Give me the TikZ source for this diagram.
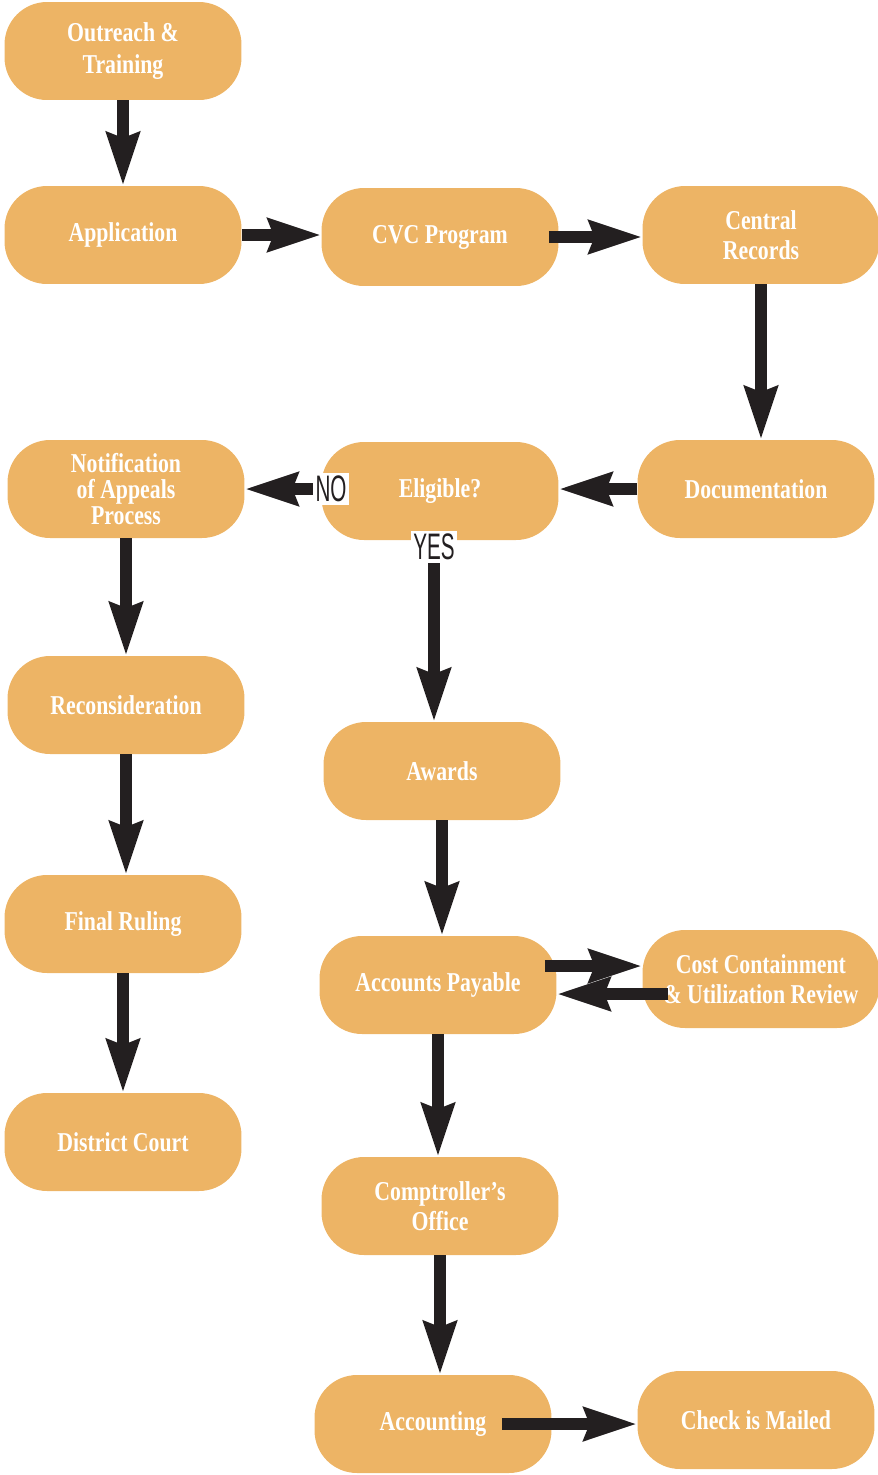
\documentclass[tikz,border=0pt]{standalone}
\usepackage{fontspec}
\setmainfont[FakeStretch=0.8]{Liberation Serif}
\newfontfamily\tagfont[FakeStretch=0.56]{Liberation Sans}
\usetikzlibrary{arrows.meta}
\definecolor{boxorange}{HTML}{EDB465}
\definecolor{arrowblack}{HTML}{231F20}

\begin{document}
\begin{tikzpicture}[x=0.02cm, y=-0.02cm,
  stage/.style={fill=boxorange, rounded corners=0.85cm, minimum width=4.74cm,
    minimum height=1.96cm, align=center, text=white,
    font=\bfseries\fontsize{15.5}{17}\selectfont},
  flow/.style={draw=arrowblack, line width=0.24cm,
    -{Stealth[length=1.05cm, width=0.64cm, inset=0.1cm]}},
  answer/.style={fill=white, text=arrowblack, inner sep=1.5pt,
    font=\tagfont\fontsize{21}{21}\selectfont}]
\useasboundingbox (0,0) rectangle (878,1475);

% left column
\node[stage] (outreach)     at (123,51)   {Outreach \&\\[1.5pt]Training};
\node[stage] (application)  at (123,235)  {Application};
\node[stage] (notification) at (126,489)  {Notification\\[-2pt]of Appeals\\[-2pt]Process};
\node[stage] (reconsider)   at (126,705)  {Reconsideration};
\node[stage] (ruling)       at (123,924)  {Final Ruling};
\node[stage] (court)        at (123,1142) {District Court};

% middle column
\node[stage] (cvc)         at (440,237)  {CVC Program};
\node[stage] (eligible)    at (440,491)  {Eligible?};
\node[stage] (awards)      at (442,771)  {Awards};
\node[stage] (payable)     at (438,985)  {Accounts Payable};
\node[stage] (comptroller) at (440,1206) {Comptroller's\\Office};
\node[stage] (accounting)  at (433,1424) {Accounting};

% right column
\node[stage] (records)   at (761,235)  {Central\\Records};
\node[stage] (docs)      at (756,489)  {Documentation};
\node[stage] (review)    at (761,979)  {Cost Containment\\\& Utilization Review};
\node[stage] (mailed)    at (756,1420) {Check is Mailed};

% answers
\node[answer] (no)  at (331,489) {NO};
\node[answer] (yes) at (434,547) {YES};

% vertical arrows
\foreach \a/\b in {outreach/application, records/docs, notification/reconsider,
  reconsider/ruling, ruling/court, awards/payable, payable/comptroller,
  comptroller/accounting}
  \draw[flow] (\a.south) -- (\a.south |- \b.north);
\draw[flow] (yes.south) -- (yes.south |- awards.north);

% horizontal arrows
\draw[flow] (application.east) -- (application.east -| cvc.west);
\draw[flow, shorten <=-0.2cm] (cvc.east) -- (cvc.east -| records.west);
\draw[flow] (docs.west) -- (docs.west -| eligible.east);
\draw[flow] (no.west) -- (no.west -| notification.east);
\draw[flow, shorten <=-0.24cm] ([yshift=0.38cm]payable.east) -- ([yshift=0.38cm]payable.east -| review.west);
\draw[flow, shorten <=-0.52cm] ([yshift=-0.3cm]review.west) -- ([yshift=-0.3cm]review.west -| payable.east);
\draw[flow, shorten <=-1cm] (accounting.east) -- (accounting.east -| mailed.west);
\end{tikzpicture}
\end{document}
